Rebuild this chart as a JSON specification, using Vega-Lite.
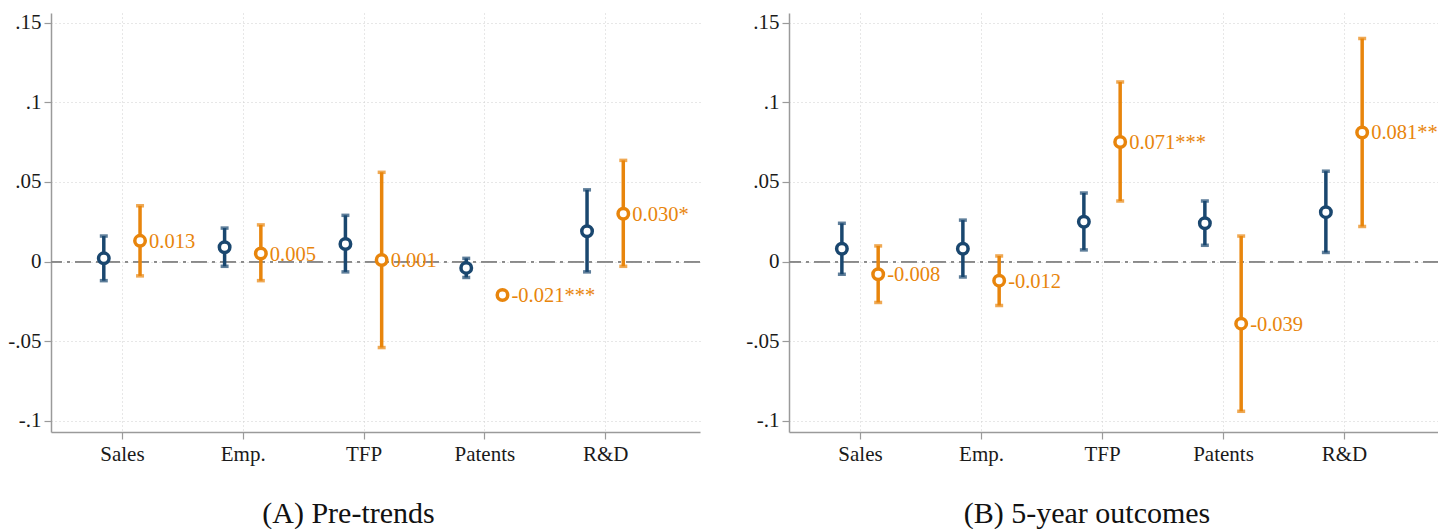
{
  "$schema": "https://vega.github.io/schema/vega-lite/v6.json",
  "padding": {"left": 7, "top": 11, "right": 0, "bottom": 0},
  "background": "white",
  "spacing": 44,
  "config": {
    "view": {"stroke": null},
    "font": "Liberation Serif",
    "axis": {
      "domainColor": "#9a9a9a", "domainWidth": 1.5,
      "tickColor": "#9a9a9a", "tickSize": 7, "tickWidth": 1.2,
      "gridColor": "#cfcfcf", "gridDash": [1, 3], "gridWidth": 1,
      "labelFont": "Liberation Serif", "labelFontSize": 21, "labelColor": "#1a1a1a",
      "labelPadding": 3, "title": null
    },
    "title": {"font": "Liberation Serif", "fontSize": 30, "fontWeight": "normal", "color": "#111", "orient": "bottom", "offset": 35, "dx": -27}
  },
  "datasets": {
    "coefs": [
      {"panel": "A", "k": 1, "g": "blue", "est": 0.002, "lo": -0.012, "hi": 0.016, "lab": ""},
      {"panel": "A", "k": 1, "g": "orange", "est": 0.013, "lo": -0.009, "hi": 0.035, "lab": "0.013"},
      {"panel": "A", "k": 2, "g": "blue", "est": 0.009, "lo": -0.003, "hi": 0.021, "lab": ""},
      {"panel": "A", "k": 2, "g": "orange", "est": 0.005, "lo": -0.012, "hi": 0.023, "lab": "0.005"},
      {"panel": "A", "k": 3, "g": "blue", "est": 0.011, "lo": -0.0065, "hi": 0.029, "lab": ""},
      {"panel": "A", "k": 3, "g": "orange", "est": 0.001, "lo": -0.054, "hi": 0.056, "lab": "0.001"},
      {"panel": "A", "k": 4, "g": "blue", "est": -0.004, "lo": -0.010, "hi": 0.002, "lab": ""},
      {"panel": "A", "k": 4, "g": "orange", "est": -0.021, "lo": -0.0225, "hi": -0.0195, "lab": "-0.021***"},
      {"panel": "A", "k": 5, "g": "blue", "est": 0.019, "lo": -0.0065, "hi": 0.045, "lab": ""},
      {"panel": "A", "k": 5, "g": "orange", "est": 0.030, "lo": -0.003, "hi": 0.0635, "lab": "0.030*"},
      {"panel": "B", "k": 1, "g": "blue", "est": 0.008, "lo": -0.008, "hi": 0.024, "lab": ""},
      {"panel": "B", "k": 1, "g": "orange", "est": -0.008, "lo": -0.0257, "hi": 0.0098, "lab": "-0.008"},
      {"panel": "B", "k": 2, "g": "blue", "est": 0.008, "lo": -0.0097, "hi": 0.026, "lab": ""},
      {"panel": "B", "k": 2, "g": "orange", "est": -0.012, "lo": -0.0276, "hi": 0.0035, "lab": "-0.012"},
      {"panel": "B", "k": 3, "g": "blue", "est": 0.025, "lo": 0.0073, "hi": 0.043, "lab": ""},
      {"panel": "B", "k": 3, "g": "orange", "est": 0.075, "lo": 0.038, "hi": 0.1127, "lab": "0.071***"},
      {"panel": "B", "k": 4, "g": "blue", "est": 0.024, "lo": 0.0102, "hi": 0.038, "lab": ""},
      {"panel": "B", "k": 4, "g": "orange", "est": -0.039, "lo": -0.094, "hi": 0.016, "lab": "-0.039"},
      {"panel": "B", "k": 5, "g": "blue", "est": 0.031, "lo": 0.0057, "hi": 0.0567, "lab": ""},
      {"panel": "B", "k": 5, "g": "orange", "est": 0.081, "lo": 0.022, "hi": 0.140, "lab": "0.081***"}
    ]
  },
  "hconcat": [
    {
      "title": {"text": "(A) Pre-trends"},
      "width": 649,
      "height": 419,
      "data": {"name": "coefs"},
      "transform": [
        {"filter": "datum.panel == 'A'"},
        {"calculate": "datum.k + (datum.g == 'blue' ? -0.15 : 0.15)", "as": "pos"}
      ],
      "encoding": {
        "x": {"field": "pos", "type": "quantitative",
              "scale": {"domain": [0.413, 5.785], "nice": false, "zero": false},
              "axis": {"values": [1, 2, 3, 4, 5], "grid": true, "labelExpr": "['','Sales','Emp.','TFP','Patents','R&D'][datum.value]", "labelPadding": 4}},
        "y": {"type": "quantitative",
              "scale": {"domain": [-0.107, 0.156], "nice": false, "zero": false},
              "axis": {"values": [-0.1, -0.05, 0, 0.05, 0.1, 0.15], "grid": true,
                       "labelExpr": "datum.value == 0 ? '0' : (datum.value < 0 ? '-' : '') + replace(format(abs(datum.value), '~g'), '0.', '.')"}}
      },
      "layer": [
        {"mark": {"type": "rule", "color": "#8a8a8a", "strokeWidth": 1.3, "strokeDash": [16, 5, 3, 5]},
         "encoding": {"y": {"datum": 0, "type": "quantitative"}, "x": null}},
        {"mark": {"type": "rule", "strokeWidth": 3.5},
         "encoding": {"y": {"field": "lo"}, "y2": {"field": "hi"},
                      "color": {"field": "g", "type": "nominal", "scale": {"domain": ["blue", "orange"], "range": ["#1a476f", "#e8850c"]}, "legend": null}}},
        {"mark": {"type": "tick", "orient": "horizontal", "size": 8, "thickness": 3.5},
         "encoding": {"y": {"field": "lo"},
                      "color": {"field": "g", "type": "nominal", "legend": null}}},
        {"mark": {"type": "tick", "orient": "horizontal", "size": 8, "thickness": 3.5},
         "encoding": {"y": {"field": "hi"},
                      "color": {"field": "g", "type": "nominal", "legend": null}}},
        {"mark": {"type": "point", "shape": "circle", "filled": true, "fill": "white", "size": 110, "strokeWidth": 3.5, "opacity": 1},
         "encoding": {"y": {"field": "est"},
                      "stroke": {"field": "g", "type": "nominal", "scale": {"domain": ["blue", "orange"], "range": ["#1a476f", "#e8850c"]}, "legend": null}}},
        {"mark": {"type": "text", "align": "left", "baseline": "middle", "dx": 9, "dy": 1, "fontSize": 20.5, "font": "Liberation Serif", "color": "#e8850c"},
         "encoding": {"y": {"field": "est"}, "text": {"field": "lab"}}}
      ]
    },
    {
      "title": {"text": "(B) 5-year outcomes"},
      "width": 650,
      "height": 419,
      "data": {"name": "coefs"},
      "transform": [
        {"filter": "datum.panel == 'B'"},
        {"calculate": "datum.k + (datum.g == 'blue' ? -0.15 : 0.15)", "as": "pos"}
      ],
      "encoding": {
        "x": {"field": "pos", "type": "quantitative",
              "scale": {"domain": [0.413, 5.785], "nice": false, "zero": false},
              "axis": {"values": [1, 2, 3, 4, 5], "grid": true, "labelExpr": "['','Sales','Emp.','TFP','Patents','R&D'][datum.value]", "labelPadding": 4}},
        "y": {"type": "quantitative",
              "scale": {"domain": [-0.107, 0.156], "nice": false, "zero": false},
              "axis": {"values": [-0.1, -0.05, 0, 0.05, 0.1, 0.15], "grid": true,
                       "labelExpr": "datum.value == 0 ? '0' : (datum.value < 0 ? '-' : '') + replace(format(abs(datum.value), '~g'), '0.', '.')"}}
      },
      "layer": [
        {"mark": {"type": "rule", "color": "#8a8a8a", "strokeWidth": 1.3, "strokeDash": [16, 5, 3, 5]},
         "encoding": {"y": {"datum": 0, "type": "quantitative"}, "x": null}},
        {"mark": {"type": "rule", "strokeWidth": 3.5},
         "encoding": {"y": {"field": "lo"}, "y2": {"field": "hi"},
                      "color": {"field": "g", "type": "nominal", "scale": {"domain": ["blue", "orange"], "range": ["#1a476f", "#e8850c"]}, "legend": null}}},
        {"mark": {"type": "tick", "orient": "horizontal", "size": 8, "thickness": 3.5},
         "encoding": {"y": {"field": "lo"},
                      "color": {"field": "g", "type": "nominal", "legend": null}}},
        {"mark": {"type": "tick", "orient": "horizontal", "size": 8, "thickness": 3.5},
         "encoding": {"y": {"field": "hi"},
                      "color": {"field": "g", "type": "nominal", "legend": null}}},
        {"mark": {"type": "point", "shape": "circle", "filled": true, "fill": "white", "size": 110, "strokeWidth": 3.5, "opacity": 1},
         "encoding": {"y": {"field": "est"},
                      "stroke": {"field": "g", "type": "nominal", "scale": {"domain": ["blue", "orange"], "range": ["#1a476f", "#e8850c"]}, "legend": null}}},
        {"mark": {"type": "text", "align": "left", "baseline": "middle", "dx": 9, "dy": 1, "fontSize": 20.5, "font": "Liberation Serif", "color": "#e8850c"},
         "encoding": {"y": {"field": "est"}, "text": {"field": "lab"}}}
      ]
    }
  ]
}
